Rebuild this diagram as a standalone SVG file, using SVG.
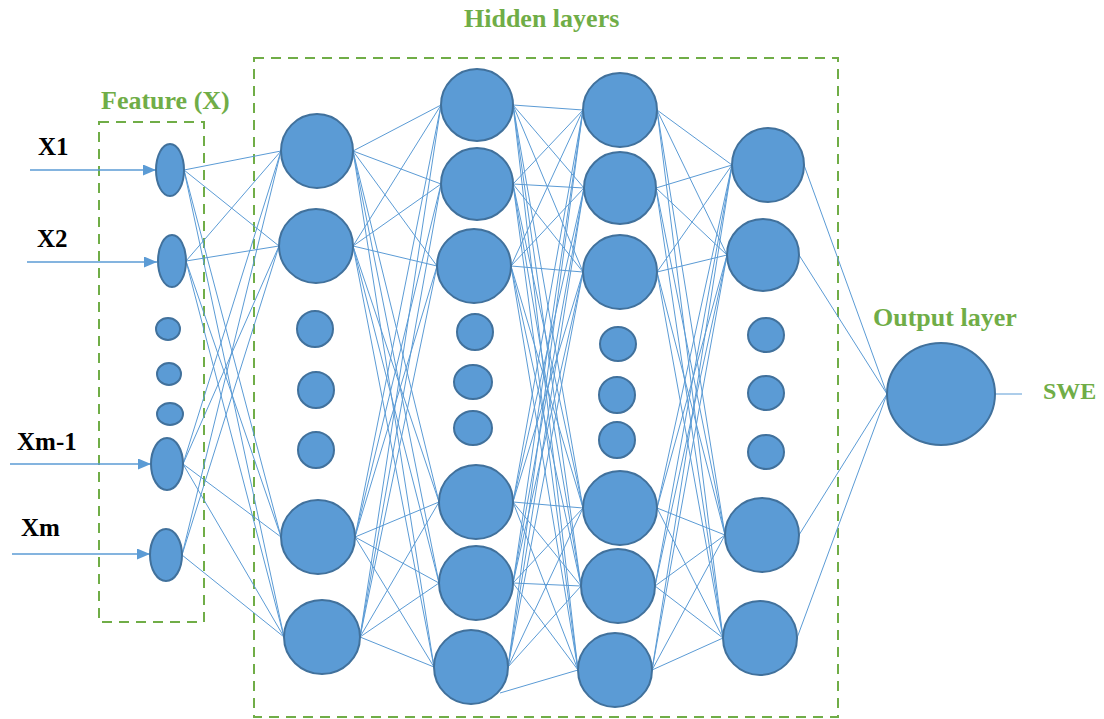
<svg xmlns="http://www.w3.org/2000/svg" width="1104" height="719" viewBox="0 0 1104 719">
  <defs>
    <style>
      .n { fill: #5B9BD5; stroke: #41719C; stroke-width: 2; }
      .c { fill: none; stroke: #5B9BD5; stroke-width: 1; }
      .in { fill: none; stroke: #5B9BD5; stroke-width: 1.5; marker-end: url(#arrow); }
      .box { fill: none; stroke: #70AD47; stroke-width: 2; stroke-dasharray: 10 7; }
      .lbl { font-family: "Liberation Serif", "Times New Roman", serif; font-weight: bold; font-size: 25px; fill: #000; }
      .grn { font-family: "Liberation Serif", "Times New Roman", serif; font-weight: bold; font-size: 26px; fill: #70AD47; }
    </style>
    <marker id="arrow" markerUnits="userSpaceOnUse" markerWidth="13" markerHeight="11" refX="13" refY="5.5" orient="auto">
      <path d="M0,0 L13,5.5 L0,11 z" fill="#5B9BD5"/>
    </marker>
  </defs>

  <rect width="1104" height="719" fill="#FFFFFF"/>

  <!-- dashed grouping frames -->
  <g id="frames">
    <rect class="box" x="99" y="122" width="105" height="500"/>
    <rect class="box" x="254" y="58" width="584" height="659"/>
  </g>

  <!-- connectors -->
  <g id="connectors">
    <!-- inputs -->
    <line class="in" x1="30" y1="170" x2="156" y2="170"/>
    <line class="in" x1="27" y1="262" x2="157" y2="262"/>
    <line class="in" x1="10" y1="464" x2="151" y2="464"/>
    <line class="in" x1="12" y1="554" x2="150" y2="554"/>

    <!-- features to hidden layer 1 -->
    <path class="c" d="M184 170 L281 151 M184 170 L279 246 M184 170 L281 537 M184 170 L284 637"/>
    <path class="c" d="M186 261 L281 151 M186 261 L279 246 M186 261 L281 537 M186 261 L284 637"/>
    <path class="c" d="M183 464 L281 151 M183 464 L279 246 M183 464 L281 537 M183 464 L284 637"/>
    <path class="c" d="M182 555 L281 151 M182 555 L279 246 M182 555 L284 637"/>

    <!-- hidden layer 1 to hidden layer 2 -->
    <path class="c" d="M353 151 L441 105 M353 151 L441 184 M353 151 L437 266 M353 151 L439 502 M353 151 L439 583 M353 151 L434 667"/>
    <path class="c" d="M353 246 L441 105 M353 246 L441 184 M353 246 L437 266 M353 246 L439 502 M353 246 L439 583 M353 246 L434 667"/>
    <path class="c" d="M355 537 L441 105 M355 537 L441 184 M355 537 L437 266 M355 537 L439 502 M355 537 L439 583 M355 537 L434 667"/>
    <path class="c" d="M360 637 L441 105 M360 637 L441 184 M360 637 L437 266 M360 637 L439 502 M360 637 L439 583 M360 637 L434 667"/>

    <!-- hidden layer 2 to hidden layer 3 -->
    <path class="c" d="M513 105 L583 110 M513 105 L584 188 M513 105 L583 272 M513 105 L583 508 M513 105 L581 586 M513 105 L578 670"/>
    <path class="c" d="M513 184 L583 110 M513 184 L584 188 M513 184 L583 272 M513 184 L583 508 M513 184 L581 586 M513 184 L578 670"/>
    <path class="c" d="M511 266 L583 110 M511 266 L584 188 M511 266 L583 272 M511 266 L583 508 M511 266 L581 586 M511 266 L578 670"/>
    <path class="c" d="M513 502 L583 110 M513 502 L584 188 M513 502 L583 272 M513 502 L583 508 M513 502 L581 586 M513 502 L578 670"/>
    <path class="c" d="M513 583 L583 110 M513 583 L584 188 M513 583 L583 272 M513 583 L583 508 M513 583 L581 586 M513 583 L578 670"/>
    <path class="c" d="M508 667 L583 110 M508 667 L584 188 M508 667 L583 272 M508 667 L583 508 M508 667 L581 586 M500 693 L578 670"/>

    <!-- hidden layer 3 to hidden layer 4 -->
    <path class="c" d="M657 110 L732 165 M657 110 L727 255 M657 110 L725 535 M657 110 L723 638"/>
    <path class="c" d="M656 188 L732 165 M656 188 L727 255 M656 188 L725 535 M656 188 L723 638"/>
    <path class="c" d="M657 272 L732 165 M657 272 L727 255 M657 272 L725 535 M657 272 L723 638"/>
    <path class="c" d="M657 508 L732 165 M657 508 L727 255 M657 508 L725 535 M657 508 L723 638"/>
    <path class="c" d="M655 586 L732 165 M655 586 L727 255 M655 586 L725 535 M655 586 L723 638"/>
    <path class="c" d="M652 670 L732 165 M652 670 L727 255 M652 670 L725 535 M652 670 L723 638"/>

    <!-- hidden layer 4 to output -->
    <path class="c" d="M804 165 L887 394 M799 255 L887 394 M799 535 L887 394 M797 638 L887 394"/>
    <line class="c" x1="995" y1="394" x2="1022" y2="394"/>
  </g>

  <!-- feature layer -->
  <g id="x1"><ellipse class="n" cx="170" cy="170" rx="14" ry="26"/></g>
  <g id="x2"><ellipse class="n" cx="172" cy="261" rx="14" ry="26"/></g>
  <g id="xdot1"><ellipse class="n" cx="168" cy="329" rx="12" ry="11"/></g>
  <g id="xdot2"><ellipse class="n" cx="169" cy="374" rx="12" ry="11"/></g>
  <g id="xdot3"><ellipse class="n" cx="170" cy="414" rx="13" ry="11"/></g>
  <g id="xm1"><ellipse class="n" cx="167" cy="464" rx="16" ry="26"/></g>
  <g id="xm"><ellipse class="n" cx="166" cy="555" rx="16" ry="26"/></g>

  <!-- hidden layer 1 -->
  <g id="h1a"><ellipse class="n" cx="317" cy="151" rx="36" ry="37"/></g>
  <g id="h1b"><ellipse class="n" cx="316" cy="246" rx="37" ry="37"/></g>
  <g id="h1dot1"><circle class="n" cx="315" cy="329" r="18"/></g>
  <g id="h1dot2"><circle class="n" cx="316" cy="390" r="18"/></g>
  <g id="h1dot3"><circle class="n" cx="316" cy="450" r="18"/></g>
  <g id="h1c"><ellipse class="n" cx="318" cy="537" rx="37" ry="37"/></g>
  <g id="h1d"><ellipse class="n" cx="322" cy="637" rx="38" ry="37"/></g>

  <!-- hidden layer 2 -->
  <g id="h2a"><circle class="n" cx="477" cy="105" r="36"/></g>
  <g id="h2b"><circle class="n" cx="477" cy="184" r="36"/></g>
  <g id="h2c"><circle class="n" cx="474" cy="266" r="37"/></g>
  <g id="h2dot1"><circle class="n" cx="475" cy="332" r="18"/></g>
  <g id="h2dot2"><ellipse class="n" cx="473" cy="382" rx="19" ry="17"/></g>
  <g id="h2dot3"><ellipse class="n" cx="473" cy="428" rx="19" ry="17"/></g>
  <g id="h2d"><circle class="n" cx="476" cy="502" r="37"/></g>
  <g id="h2e"><circle class="n" cx="476" cy="583" r="37"/></g>
  <g id="h2f"><circle class="n" cx="471" cy="667" r="37"/></g>

  <!-- hidden layer 3 -->
  <g id="h3a"><circle class="n" cx="620" cy="110" r="37"/></g>
  <g id="h3b"><circle class="n" cx="620" cy="188" r="36"/></g>
  <g id="h3c"><circle class="n" cx="620" cy="272" r="37"/></g>
  <g id="h3dot1"><ellipse class="n" cx="618" cy="344" rx="18" ry="17"/></g>
  <g id="h3dot2"><circle class="n" cx="617" cy="395" r="18"/></g>
  <g id="h3dot3"><circle class="n" cx="617" cy="440" r="18"/></g>
  <g id="h3d"><circle class="n" cx="620" cy="508" r="37"/></g>
  <g id="h3e"><circle class="n" cx="618" cy="586" r="37"/></g>
  <g id="h3f"><circle class="n" cx="615" cy="670" r="37"/></g>

  <!-- hidden layer 4 -->
  <g id="h4a"><ellipse class="n" cx="768" cy="165" rx="36" ry="37"/></g>
  <g id="h4b"><circle class="n" cx="763" cy="255" r="36"/></g>
  <g id="h4dot1"><ellipse class="n" cx="766" cy="335" rx="18" ry="17"/></g>
  <g id="h4dot2"><ellipse class="n" cx="766" cy="393" rx="18" ry="17"/></g>
  <g id="h4dot3"><ellipse class="n" cx="766" cy="452" rx="18" ry="17"/></g>
  <g id="h4c"><circle class="n" cx="762" cy="535" r="37"/></g>
  <g id="h4d"><circle class="n" cx="760" cy="638" r="37"/></g>

  <!-- output layer -->
  <g id="out"><ellipse class="n" cx="941" cy="394" rx="54" ry="51"/></g>

  <!-- labels -->
  <g id="labels">
    <text class="lbl" x="38" y="155">X1</text>
    <text class="lbl" x="37" y="247">X2</text>
    <text class="lbl" x="17" y="450">Xm-1</text>
    <text class="lbl" x="21" y="536">Xm</text>
    <text class="grn" x="101" y="109">Feature (X)</text>
    <text class="grn" x="464" y="27">Hidden layers</text>
    <text class="grn" x="873" y="326">Output layer</text>
    <text class="grn" x="1043" y="399" style="font-size:24px">SWE</text>
  </g>
</svg>
